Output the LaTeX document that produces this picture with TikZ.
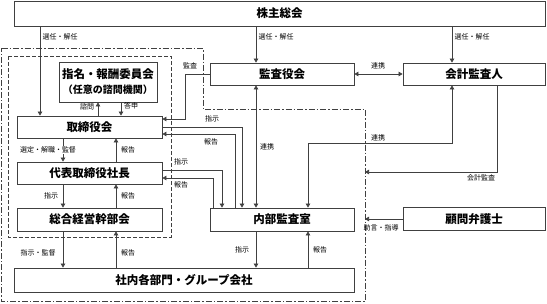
\documentclass[tikz,border=0pt]{standalone}
\usepackage{fontspec}
\setmainfont{Noto Sans CJK JP}
\usepackage{tikz}
\usetikzlibrary{arrows.meta, positioning, calc}
\usepackage{xcolor}
\definecolor{lineGray}{HTML}{404040}

\begin{document}
\begin{tikzpicture}[x=1pt, y=-1pt,
    box/.style={draw=lineGray, line width=0.8pt, minimum height=22pt, inner sep=0pt, font=\fontsize{11.5}{15}\selectfont\bfseries},
    lbl/.style={font=\fontsize{7}{8}\selectfont, inner sep=0.5pt},
    arr/.style={draw=lineGray, line width=0.7pt, -{Triangle[length=4pt, width=4.5pt]}},
    biarr/.style={arr, {Triangle[length=4pt, width=4.5pt]}-{Triangle[length=4pt, width=4.5pt]}},
]
    \useasboundingbox (0,0) rectangle (547,303);

    % Frames
    \draw[lineGray, line width=0.7pt, dash pattern=on 4pt off 2pt] (8,56) rectangle (171,237);
    \draw[lineGray, line width=0.7pt, dash pattern=on 6pt off 2pt on 1.5pt off 2pt]
        (1.5,48) -- (203,48) -- (203,109) -- (365,109) -- (365,301.5) -- (1.5,301.5) -- cycle;
    \coordinate (kaikeiIn) at (365,172);
    \coordinate (bengoIn) at (365,219);

    % Boxes
    \node[box, minimum width=531pt, minimum height=25pt] (soukai) at (279.5,13.5) {株主総会};
    \node[box, minimum width=144pt] (kansayaku) at (282,74) {監査役会};
    \node[box, minimum width=142pt] (kaikei) at (474,74) {会計監査人};
    \node[box, minimum width=98pt, minimum height=40pt, align=center] (iinkai) at (108,82)
        {指名・報酬委員会\\{\fontsize{10}{12}\selectfont （任意の諮問機関）}};
    \node[box, minimum width=145pt] (torishimari) at (89.5,127) {取締役会};
    \node[box, minimum width=145pt] (shacho) at (89.5,173) {代表取締役社長};
    \node[box, minimum width=145pt, minimum height=23pt] (keiei) at (89.5,219.5) {総合経営幹部会};
    \node[box, minimum width=144pt, minimum height=23pt] (naibu) at (282,219.5) {内部監査室};
    \node[box, minimum width=142pt, minimum height=23pt] (bengoshi) at (474,219) {顧問弁護士};
    \node[box, minimum width=340pt, minimum height=24pt] (shanai) at (184,280) {社内各部門・グループ会社};

    % Shareholders
    \draw[arr] (soukai.south -| 40,0) -- (torishimari.north -| 40,0);
    \draw[arr] (soukai.south -| 256,0) -- (kansayaku.north -| 256,0);
    \draw[arr] (soukai.south -| 452,0) -- (kaikei.north -| 452,0);
    \node[lbl, anchor=west] (sennin1) at (42,37) {選任・解任};
    \node[lbl, anchor=west] (sennin2) at (258,37) {選任・解任};
    \node[lbl, anchor=west] (sennin3) at (454,37) {選任・解任};

    % Auditors
    \draw[biarr] (kansayaku.east) -- (kaikei.west);
    \node[lbl] (renkei1) at (378,66) {連携};
    \draw[arr] (kansayaku.west) -- (185,74) -- (185,119) -- (torishimari.east |- 0,119);
    \node[lbl] (kansa) at (190,66) {監査};
    \draw[biarr] (kansayaku.south -| 256,0) -- (naibu.north -| 256,0);
    \node[lbl] (renkei2) at (267,147) {連携};
    \draw[biarr] (kaikei.south -| 452,0) |- (308,143) -- (naibu.north -| 308,0);
    \node[lbl] (renkei3) at (378,138) {連携};
    \draw[arr] (kaikei.south -| 497,0) |- (kaikeiIn);
    \node[lbl] (kaikeikansa) at (481,178) {会計監査};
    \draw[arr] (bengoshi.west) -- (bengoIn);
    \node[lbl] (jogen) at (381,228) {助言・指導};

    % Board and committee
    \draw[arr] (torishimari.north -| 98,0) -- (iinkai.south -| 98,0);
    \draw[arr] (iinkai.south -| 121,0) -- (torishimari.north -| 121,0);
    \node[lbl] (shimon) at (87,107) {諮問};
    \node[lbl] (toushin) at (131,106) {答申};

    % Management chain
    \draw[arr] (torishimari.south -| 63,0) -- (shacho.north -| 63,0);
    \draw[arr] (shacho.north -| 116,0) -- (torishimari.south -| 116,0);
    \node[lbl, fill=white] (sentei) at (48,150) {選定・解職・監督};
    \node[lbl] (houkoku1) at (128,150) {報告};
    \draw[arr] (shacho.south -| 63,0) -- (keiei.north -| 63,0);
    \draw[arr] (keiei.north -| 116,0) -- (shacho.south -| 116,0);
    \node[lbl] (shiji1) at (51,196) {指示};
    \node[lbl] (houkoku2) at (128,196) {報告};
    \draw[arr] (keiei.south -| 63,0) -- (shanai.north -| 63,0);
    \draw[arr] (shanai.north -| 116,0) -- (keiei.south -| 116,0);
    \node[lbl] (shiji2) at (38,253) {指示・監督};
    \node[lbl] (houkoku3) at (128,253) {報告};

    % Internal audit
    \draw[arr] (torishimari.east) -| (naibu.north -| 242,0);
    \node[lbl] (shiji3) at (212,119) {指示};
    \draw[arr] (naibu.north -| 235,0) |- (torishimari.east |- 0,134);
    \node[lbl] (houkoku4) at (211,142) {報告};
    \draw[arr] (shacho.east |- 0,170) -| (naibu.north -| 222,0);
    \node[lbl] (shiji4) at (181,162) {指示};
    \draw[arr] (naibu.north -| 213,0) |- (shacho.east |- 0,178);
    \node[lbl] (houkoku5) at (181,185) {報告};
    \draw[arr] (naibu.south -| 256,0) -- (shanai.north -| 256,0);
    \draw[arr] (shanai.north -| 308,0) -- (naibu.south -| 308,0);
    \node[lbl] (shiji5) at (242,250) {指示};
    \node[lbl] (houkoku6) at (320,250) {報告};
\end{tikzpicture}
\end{document}
